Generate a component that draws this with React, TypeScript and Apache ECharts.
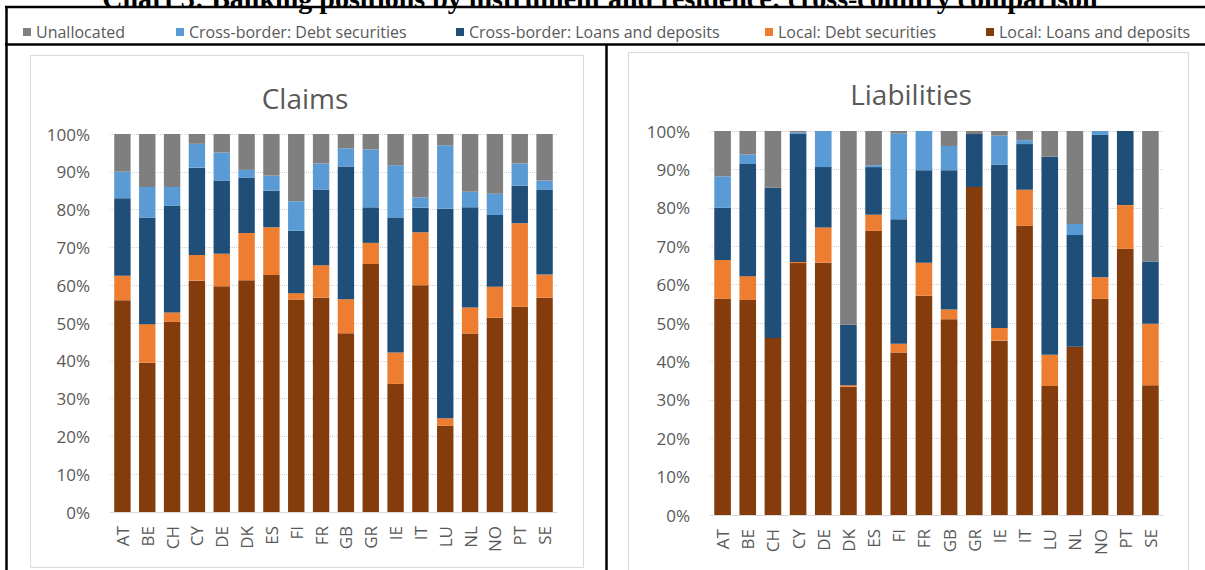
import React, { useEffect, useRef } from "react";
import * as echarts from "echarts";

// Reporting countries (x-axis categories), shared by both panels
const countries = ["AT", "BE", "CH", "CY", "DE", "DK", "ES", "FI", "FR", "GB", "GR", "IE", "IT", "LU", "NL", "NO", "PT", "SE"];

// Instrument / residence breakdown, in percent of each country's total
const seriesNames = [
  "Local: Loans and deposits",
  "Local: Debt securities",
  "Cross-border: Loans and deposits",
  "Cross-border: Debt securities",
  "Unallocated",
];
const seriesColors = ["#843C0C", "#ED7D31", "#1F4E79", "#5B9BD5", "#7F7F7F"];

// Claims
const claimsLocalLoans = [56, 39.5, 50.3, 61.2, 59.7, 61.3, 62.7, 56.2, 56.7, 47.3, 65.6, 33.9, 60, 22.8, 47.2, 51.4, 54.3, 56.7];
const claimsLocalDebt = [6.5, 10.2, 2.5, 6.8, 8.6, 12.5, 12.6, 1.7, 8.6, 9, 5.6, 8.3, 14, 2, 6.9, 8.2, 22.1, 6.1];
const claimsCrossLoans = [20.5, 28.2, 28.2, 23.1, 19.3, 14.6, 9.7, 16.5, 20, 35.1, 9.4, 35.6, 6.5, 55.4, 26.5, 19, 9.9, 22.4];
const claimsCrossDebt = [7, 8.1, 5, 6.3, 7.5, 2.1, 4, 7.8, 6.9, 4.8, 15.3, 13.9, 2.7, 16.8, 4.1, 5.6, 5.9, 2.5];
const claimsUnallocated = [10, 14, 14, 2.6, 4.9, 9.5, 11, 17.8, 7.8, 3.8, 4.1, 8.3, 16.8, 3, 15.3, 15.8, 7.8, 12.3];

// Liabilities
const liabLocalLoans = [56.3, 56, 46.1, 65.6, 65.7, 33.4, 74, 42.3, 57.1, 51, 85.4, 45.4, 75.3, 33.6, 43.8, 56.3, 69.3, 33.8];
const liabLocalDebt = [10.1, 6.2, 0, 0.3, 9.2, 0.4, 4.2, 2.3, 8.6, 2.5, 0, 3.3, 9.4, 8.1, 0, 5.6, 11.4, 16];
const liabCrossLoans = [13.6, 29.2, 39.1, 33.3, 15.7, 15.8, 12.4, 32.4, 24.1, 36.3, 13.8, 42.5, 11.9, 51.6, 29.1, 37.1, 19.3, 16.2];
const liabCrossDebt = [8.2, 2.5, 0, 0.4, 9.4, 0, 0.5, 22.3, 10.2, 6.3, 0, 7.6, 1, 0, 2.9, 1, 0, 0];
const liabUnallocated = [11.8, 6.1, 14.8, 0.4, 0, 50.4, 8.9, 0.7, 0, 3.9, 0.8, 1.2, 2.4, 6.7, 24.2, 0, 0, 34];

const claimsData = [claimsLocalLoans, claimsLocalDebt, claimsCrossLoans, claimsCrossDebt, claimsUnallocated];
const liabData = [liabLocalLoans, liabLocalDebt, liabCrossLoans, liabCrossDebt, liabUnallocated];

// Legend order across the top row, left to right
const legendOrder = [
  "Unallocated",
  "Cross-border: Debt securities",
  "Cross-border: Loans and deposits",
  "Local: Debt securities",
  "Local: Loans and deposits",
];
const legendLeft = [23, 176, 456, 765, 986];

const FONT = "'Open Sans', sans-serif";
const TEXT_COLOR = "#595959";

export default function App() {
  const ref = useRef<HTMLDivElement>(null);

  useEffect(() => {
    if (!ref.current) return;
    const chart = echarts.init(ref.current, undefined, { renderer: "svg" });

    const yAxisCommon = {
      type: "value" as const,
      min: 0,
      max: 100,
      interval: 10,
      axisLine: { show: false },
      axisTick: { show: false },
      axisLabel: {
        formatter: "{value}%",
        color: TEXT_COLOR,
        fontSize: 17,
        fontFamily: FONT,
        margin: 20,
      },
      splitLine: { lineStyle: { color: "#D0D0D0", type: "dotted" as const, width: 1 } },
    };

    const xAxisCommon = {
      type: "category" as const,
      data: countries,
      axisLine: { lineStyle: { color: "#D9D9D9", width: 1 } },
      axisTick: { show: false },
      axisLabel: {
        rotate: 90,
        color: TEXT_COLOR,
        fontSize: 17,
        fontFamily: FONT,
        margin: 14,
        interval: 0,
      },
    };

    const makeSeries = (data: number[][], axisIndex: number, stack: string) =>
      data.map((vals, i) => ({
        name: seriesNames[i],
        type: "bar" as const,
        stack,
        xAxisIndex: axisIndex,
        yAxisIndex: axisIndex,
        data: vals,
        barCategoryGap: "34%",
        itemStyle: { color: seriesColors[i] },
      }));

    chart.setOption({
      animation: false,
      backgroundColor: "#FFFFFF",
      legend: legendOrder.map((name, i) => ({
        data: [name],
        left: legendLeft[i],
        top: 24,
        icon: "rect",
        itemWidth: 8,
        itemHeight: 8,
        itemGap: 5,
        padding: 0,
        selectedMode: false,
        textStyle: { color: TEXT_COLOR, fontSize: 16, fontFamily: FONT },
      })),
      grid: [
        { left: 110, right: 648, top: 134, bottom: 58 },
        { left: 710, right: 42, top: 131, bottom: 55 },
      ],
      xAxis: [
        { ...xAxisCommon, gridIndex: 0 },
        { ...xAxisCommon, gridIndex: 1 },
      ],
      yAxis: [
        { ...yAxisCommon, gridIndex: 0 },
        { ...yAxisCommon, gridIndex: 1 },
      ],
      series: [...makeSeries(claimsData, 0, "claims"), ...makeSeries(liabData, 1, "liabilities")],
      graphic: [
        // Heading, running off the top edge of the page
        {
          type: "text",
          x: 600,
          y: 12,
          z: 10,
          style: {
            text: "Chart 3: Banking positions by instrument and residence: cross-country comparison",
            font: "bold 28px 'Liberation Serif', serif",
            fill: "#000000",
            textAlign: "center",
            textVerticalAlign: "bottom",
          },
          silent: true,
        },
        // Panel frames
        { type: "rect", shape: { x: 30.5, y: 55.5, width: 553, height: 512 }, style: { fill: "none", stroke: "#D9D9D9", lineWidth: 1 }, silent: true, z: -1 },
        { type: "rect", shape: { x: 628.5, y: 52.5, width: 560, height: 530 }, style: { fill: "none", stroke: "#D9D9D9", lineWidth: 1 }, silent: true, z: -1 },
        // Table rules
        { type: "line", shape: { x1: 5, y1: 7, x2: 1205, y2: 7 }, style: { stroke: "#000", lineWidth: 2.5 }, silent: true, z: 11 },
        { type: "line", shape: { x1: 5, y1: 44.5, x2: 1205, y2: 44.5 }, style: { stroke: "#000", lineWidth: 2.5 }, silent: true },
        { type: "line", shape: { x1: 6.5, y1: 6, x2: 6.5, y2: 570 }, style: { stroke: "#000", lineWidth: 2.5 }, silent: true },
        { type: "line", shape: { x1: 606.5, y1: 44, x2: 606.5, y2: 570 }, style: { stroke: "#000", lineWidth: 2.5 }, silent: true },
        // Panel titles
        {
          type: "text",
          x: 305,
          y: 98,
          style: { text: "Claims", font: `28px ${FONT}`, fill: TEXT_COLOR, textAlign: "center", textVerticalAlign: "middle" },
          silent: true,
        },
        {
          type: "text",
          x: 911,
          y: 94,
          style: { text: "Liabilities", font: `28px ${FONT}`, fill: TEXT_COLOR, textAlign: "center", textVerticalAlign: "middle" },
          silent: true,
        },
      ],
    });

    return () => chart.dispose();
  }, []);

  return (
    <div
      ref={ref}
      style={{ position: "fixed", left: 0, top: 0, width: 1205, height: 570, background: "#fff" }}
    />
  );
}
